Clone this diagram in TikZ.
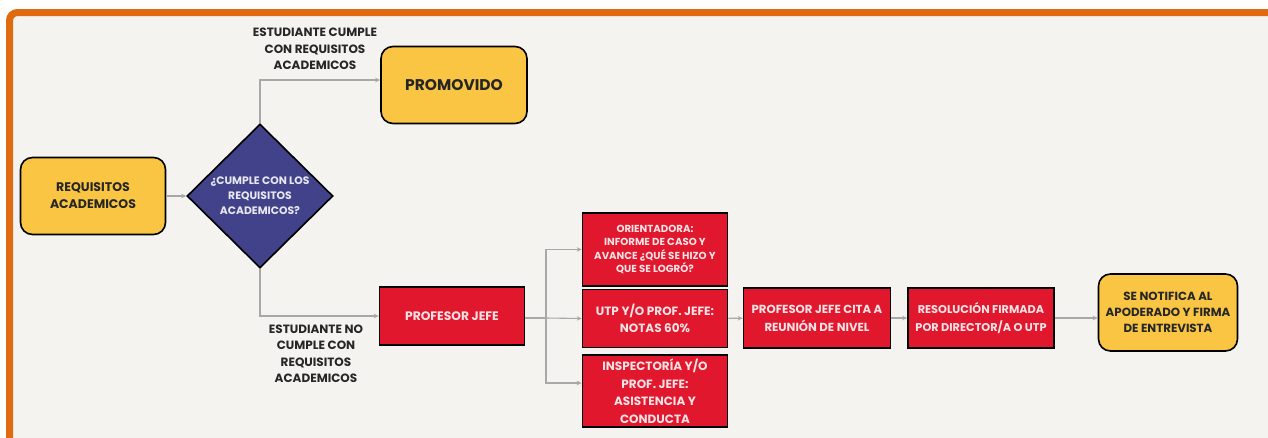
\documentclass[tikz,border=0pt]{standalone}
\usepackage{fontspec}
\setmainfont{Poppins}
\usetikzlibrary{shapes.geometric,arrows.meta}
\definecolor{fondo}{HTML}{F4F3F0}
\definecolor{naranja}{HTML}{E06A10}
\definecolor{amarillo}{HTML}{F9C542}
\definecolor{morado}{HTML}{41428A}
\definecolor{rojo}{HTML}{E0172D}
\definecolor{rosado}{HTML}{F8E2E4}
\definecolor{lila}{HTML}{E9E8F2}
\definecolor{tinta}{HTML}{262626}
\definecolor{gris}{HTML}{A8A8A8}
\tikzset{
  yellowbox/.style={draw=black, line width=1.6pt, fill=amarillo, rounded corners=12pt,
    align=center, text=tinta, inner sep=0pt},
  redbox/.style={draw=black, line width=1.6pt, fill=rojo, align=center, text=rosado,
    inner sep=0pt, minimum width=145pt},
  etiqueta/.style={align=center, text=tinta, font=\bfseries\fontsize{12}{16.5}\selectfont},
  conector/.style={draw=gris, line width=1.1pt, -{Stealth[length=5pt,width=4.5pt]}},
  linea/.style={draw=gris, line width=1.1pt}
}
\begin{document}
\begin{tikzpicture}[x=1pt,y=-1pt]
   \useasboundingbox (0,0) rectangle (1268,437);
   \clip (0,0) rectangle (1268,437);
   \fill[white] (0,0) rectangle (1268,437);
   \draw[naranja, line width=7pt, fill=fondo, rounded corners=8pt] (9.5,12.5) rectangle (1300,470);

   % decision
   \node[yellowbox, minimum width=145pt, minimum height=77pt,
     font=\bfseries\fontsize{12.5}{17}\selectfont] (req) at (93,196) {REQUISITOS\\ACADEMICOS};
   \node[diamond, draw=black, line width=1.6pt, fill=morado, text=lila, align=center,
     inner sep=0pt, minimum width=146pt, minimum height=144pt,
     font=\bfseries\fontsize{10.8}{15}\selectfont] (dia) at (260,196)
     {¿CUMPLE CON LOS\\REQUISITOS\\ACADEMICOS?};
   \node[yellowbox, minimum width=146pt, minimum height=77pt,
     font=\bfseries\fontsize{15.5}{18}\selectfont] (prom) at (454,85) {PROMOVIDO};
   \node[redbox, minimum height=58pt, font=\bfseries\fontsize{12.3}{17}\selectfont]
     (pj) at (452,316) {PROFESOR JEFE};

   \node[etiqueta] (lblsi) at (315,49) {ESTUDIANTE CUMPLE\\CON REQUISITOS\\ACADEMICOS};
   \node[etiqueta] (lblno) at (316,354) {ESTUDIANTE NO\\CUMPLE CON\\REQUISITOS\\ACADEMICOS};

   % tres informes
   \node[redbox, minimum height=73pt, font=\bfseries\fontsize{10.2}{13.5}\selectfont]
     (inf) at (655,249.5) {ORIENTADORA:\\INFORME DE CASO Y\\AVANCE ¿QUÉ SE HIZO Y\\QUE SE LOGRÓ?};
   \node[redbox, minimum height=58pt, font=\bfseries\fontsize{12}{17}\selectfont]
     (notas) at (655,318.5) {UTP Y/O PROF. JEFE:\\NOTAS 60\%};
   \node[redbox, minimum height=72pt, font=\bfseries\fontsize{12}{17.5}\selectfont]
     (insp) at (655,391) {INSPECTORÍA Y/O\\PROF. JEFE:\\ASISTENCIA Y\\CONDUCTA};

   \node[redbox, minimum width=147pt, minimum height=60pt, font=\bfseries\fontsize{11.7}{18}\selectfont]
     (cita) at (817,318) {PROFESOR JEFE CITA A\\REUNIÓN DE NIVEL};
   \node[redbox, minimum width=146pt, minimum height=60pt, font=\bfseries\fontsize{11.3}{18}\selectfont]
     (res) at (981,318) {RESOLUCIÓN FIRMADA\\POR DIRECTOR/A O UTP};
   \node[yellowbox, minimum width=139pt, minimum height=77pt,
     font=\bfseries\fontsize{11.8}{16}\selectfont] (noti) at (1168,312.5)
     {SE NOTIFICA AL\\APODERADO Y FIRMA\\DE ENTREVISTA};

   \coordinate (ramal) at (546,318);

   \draw[conector] (req) -- (dia);
   \draw[conector] (dia.north) |- ([yshift=5pt]prom.west);
   \draw[conector] (dia.south) |- (pj.west);
%  \draw[conector] (pj) -- (notas);
   \draw[linea] (ramal -| pj.east) -- (ramal);
   \draw[conector] (ramal) |- (inf.west);
   \draw[conector] (ramal) -- (notas.west);
   \draw[conector] (ramal) |- ([yshift=8pt]insp.west);
   \draw[conector] (notas) -- (cita);
   \draw[conector] (cita) -- (res);
   \draw[conector] (res.east) -- (res.east -| noti.west);
\end{tikzpicture}
\end{document}
